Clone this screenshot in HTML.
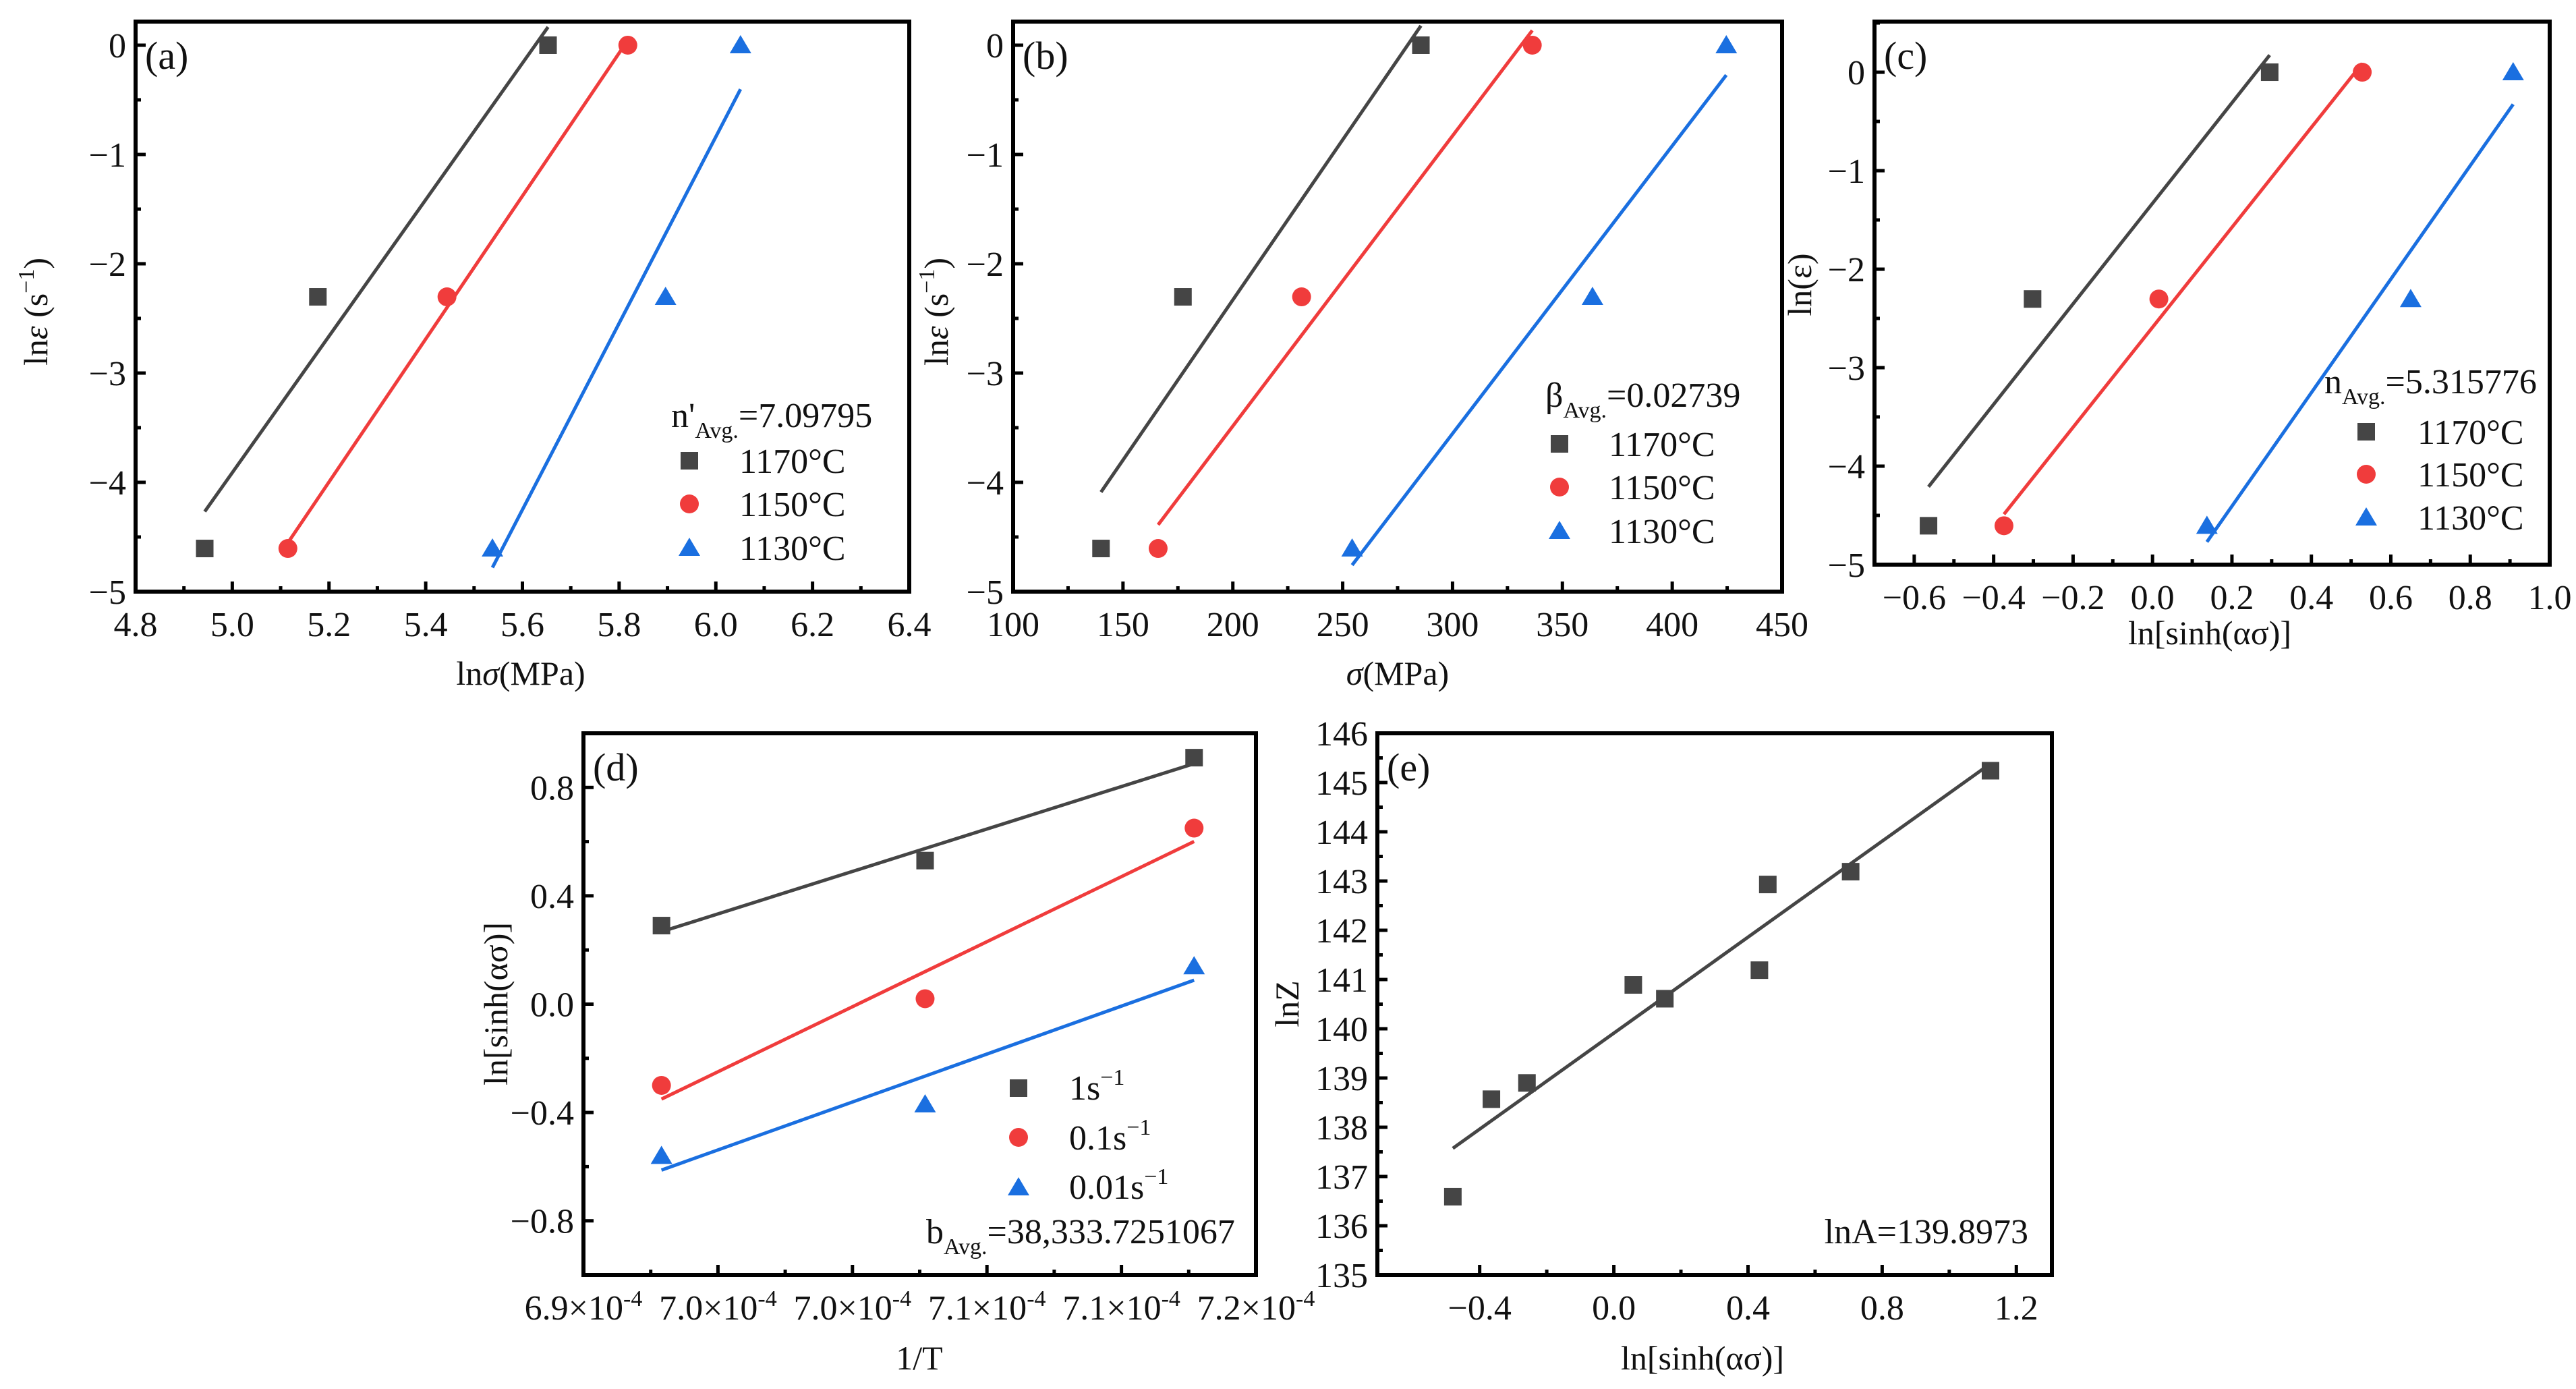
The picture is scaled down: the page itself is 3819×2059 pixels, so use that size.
<!DOCTYPE html>
<html><head><meta charset="utf-8">
<style>
html,body{margin:0;padding:0;background:#fff;}
svg{display:block;}
text{font-family:"Liberation Serif","DejaVu Serif",serif;}
</style></head>
<body>
<svg id="fig" width="3819" height="2059" viewBox="0 0 3819 2059" xmlns="http://www.w3.org/2000/svg" font-family="Liberation Serif, DejaVu Serif, serif"></svg>
<script>
// ---------- data ----------
const rateLabels = ["1170°C","1150°C","1130°C"];
const lnRate = [-4.6052,-2.3026,0];
// (a) ln sigma
const aBlackX = [4.943,5.177,5.653];
const aRedX = [5.115,5.444,5.818];
const aBlueX = [5.538,5.896,6.051];
// (b) sigma
const bBlackX = [140.0,177.3,285.6];
const bRedX = [166.0,231.3,336.3];
const bBlueX = [254.3,363.7,424.6];
// (c) ln sinh
const cBlackX = [-0.564,-0.302,0.295];
const cRedX = [-0.374,0.016,0.528];
const cBlueX = [0.137,0.650,0.908];
// (d)
const invT = [6.929e-4,7.027e-4,7.127e-4];
const dBlackY = [0.29,0.53,0.91];
const dRedY = [-0.30,0.02,0.65];
const dBlueY = [-0.56,-0.37,0.14];
const dLegend = ["1s","0.1s","0.01s"];
// (e)
const eX = [-0.480,-0.365,-0.259,0.058,0.152,0.434,0.459,0.706,1.123];
const eY = [136.59,138.57,138.90,140.89,140.61,141.19,142.93,143.19,145.24];
const aTicksX = ["4.8","5.0","5.2","5.4","5.6","5.8","6.0","6.2","6.4"];
const bTicksX = ["100","150","200","250","300","350","400","450"];
const cTicksX = ["−0.6","−0.4","−0.2","0.0","0.2","0.4","0.6","0.8","1.0"];
const dTicksX = ["6.9","7.0","7.0","7.1","7.1","7.2"];
const eTicksX = ["−0.4","0.0","0.4","0.8","1.2"];

const NS="http://www.w3.org/2000/svg";
const svg=document.getElementById('fig');
const COL=["#454545","#f03c3c","#1a6fe0"];
const FONT='"Liberation Serif", "DejaVu Serif", serif';
function el(tag,attrs,parent){const e=document.createElementNS(NS,tag);for(const k in attrs)e.setAttribute(k,attrs[k]);(parent||svg).appendChild(e);return e;}
function fit(xs,ys){const n=xs.length;let mx=0,my=0;for(let i=0;i<n;i++){mx+=xs[i];my+=ys[i];}mx/=n;my/=n;let sxy=0,sxx=0;for(let i=0;i<n;i++){sxy+=(xs[i]-mx)*(ys[i]-my);sxx+=(xs[i]-mx)**2;}const b=sxy/sxx;return x=>my+b*(x-mx);}
function marker(g,type,cx,cy,color,name){let m;
 if(type==0){m=el('rect',{x:cx-13,y:cy-13,width:26,height:26,fill:color},g);}
 else if(type==1){m=el('circle',{cx:cx,cy:cy,r:14,fill:color},g);}
 else {m=el('polygon',{points:`${cx},${cy-15} ${cx+16},${cy+12} ${cx-16},${cy+12}`,fill:color},g);}
 
 
 return m;}
function text(g,x,y,str,opts){const t=el('text',Object.assign({x:x,y:y,'font-size':52,fill:'#111','font-family':FONT},opts||{}),g);t.textContent=str;return t;}

function panel(p){
 const g=el('g',{});
 
 
 const sx=v=>p.L+(v-p.x0)/(p.x1-p.x0)*(p.R-p.L);
 const sy=v=>p.B-(v-p.y0)/(p.y1-p.y0)*(p.B-p.T);
 p.series.forEach((s,i)=>{
  const f=fit(s.x,s.y);const xa=Math.min(...s.x),xb=Math.max(...s.x);
  const ln=el('line',{x1:sx(xa),y1:sy(f(xa)),x2:sx(xb),y2:sy(f(xb)),stroke:s.c,'stroke-width':5},g);
  
  
  s.x.forEach((xv,j)=>marker(g,s.m,sx(xv),sy(s.y[j]),s.c,'point-'+(i+1)+'-'+(j+1)));
 });
 const fr=el('rect',{x:p.L,y:p.T,width:p.R-p.L,height:p.B-p.T,fill:'none',stroke:'#000','stroke-width':6},g);
 
 
 for(let v=p.xt0,k=0;v<=p.x1+1e-12;v+=p.xstep/2,k++){
  const X=sx(v);const major=k%2==0;
  el('line',{x1:X,y1:p.B,x2:X,y2:p.B-(major?15:8),stroke:'#000','stroke-width':5},g);
  if(major&&p.xlab[k/2]!==undefined){
   const t=text(g,X,p.B+66,'',{'text-anchor':'middle'});
   
   
   if(p.sci){t.textContent=p.xlab[k/2]+'×10';const s=el('tspan',{dy:-20,'font-size':34},t);s.textContent='-4';}
   else t.textContent=p.xlab[k/2];
  }
 }
 for(let v=p.yt0,k=0;v<=p.y1+1e-9;v+=p.ystep/2,k++){
  const Y=sy(v);const major=k%2==0;
  if(v<p.y0-1e-9) continue;
  el('line',{x1:p.L,y1:Y,x2:p.L+(major?15:8),y2:Y,stroke:'#000','stroke-width':5},g);
  if(major){
   const t=text(g,p.L-14,Y+18,p.yfmt(v),{'text-anchor':'end'});
   
   
  }
 }
 const lab=text(g,p.L+14,p.T+70,p.tag,{'font-size':58});
 
 
 return g;
}
const fmtInt=v=>{const r=Math.round(v);return r<0?'−'+(-r):String(r);};
const fmt1=v=>{let r=(Math.round(v*10)/10).toFixed(1);if(r==='-0.0')r='0.0';return r.startsWith('-')?'−'+r.slice(1):r;};

function tempLegend(g,mx,tx,ys){
 rateLabels.forEach((l,i)=>{marker(g,i,mx,ys[i],COL[i],'legend-marker-'+(i+1));
  const t=text(g,tx,ys[i]+18,l);});
}
function ylabelLnE(g,x,y){
 const t=text(g,x,y,'',{'text-anchor':'middle',transform:`rotate(-90 ${x} ${y})`,'font-size':50});
 
 const a=el('tspan',{},t);a.textContent='ln';
 const b=el('tspan',{'font-style':'italic'},t);b.textContent='ε';
 const c=el('tspan',{},t);c.textContent=' (s';
 const d=el('tspan',{dy:-20,'font-size':34},t);d.textContent='−1';
 const e=el('tspan',{dy:20},t);e.textContent=')';
}
function xtitle(g,x,y,parts){const t=text(g,x,y,'',{'text-anchor':'middle','font-size':50});
 
 parts.forEach(p=>{const s=el('tspan',p[1]?{'font-style':'italic'}:{},t);s.textContent=p[0];});}
function subText(g,x,y,main,sub,rest,anchor){const t=text(g,x,y,'',{'text-anchor':anchor||'start'});
 
 const a=el('tspan',{},t);a.textContent=main;const b=el('tspan',{dy:16,'font-size':34},t);b.textContent=sub;const c=el('tspan',{dy:-16},t);c.textContent=rest;}
function rotLabel(g,x,y,str){const t=text(g,x,y,str,{'text-anchor':'middle',transform:`rotate(-90 ${x} ${y})`,'font-size':50});}

// (a)
let g=panel({name:'panel-a',tag:'(a)',L:201,R:1348,T:32,B:877,x0:4.8,x1:6.4,xt0:4.8,xstep:0.2,xlab:aTicksX,y0:-5,y1:0.216,yt0:-5,ystep:1,yfmt:fmtInt,
 series:[{x:aBlackX,y:lnRate,c:COL[0],m:0},{x:aRedX,y:lnRate,c:COL[1],m:1},{x:aBlueX,y:lnRate,c:COL[2],m:2}]});
ylabelLnE(g,70,462);xtitle(g,772,1015,[['ln',0],['σ',1],['(MPa)',0]]);
subText(g,995,633,"n'",'Avg.','=7.09795');tempLegend(g,1022,1096,[683,747,812]);
// (b)
g=panel({name:'panel-b',tag:'(b)',L:1502,R:2642,T:32,B:877,x0:100,x1:450,xt0:100,xstep:50,xlab:bTicksX,y0:-5,y1:0.216,yt0:-5,ystep:1,yfmt:fmtInt,
 series:[{x:bBlackX,y:lnRate,c:COL[0],m:0},{x:bRedX,y:lnRate,c:COL[1],m:1},{x:bBlueX,y:lnRate,c:COL[2],m:2}]});
ylabelLnE(g,1405,462);xtitle(g,2072,1015,[['σ',1],['(MPa)',0]]);
subText(g,2291,603,'β','Avg.','=0.02739');tempLegend(g,2312,2385,[658,722,787]);
// (c)
g=panel({name:'panel-c',tag:'(c)',L:2779,R:3780,T:32,B:837,x0:-0.7,x1:1.0,xt0:-0.6,xstep:0.2,xlab:cTicksX,y0:-5,y1:0.514,yt0:-5,ystep:1,yfmt:fmtInt,
 series:[{x:cBlackX,y:lnRate,c:COL[0],m:0},{x:cRedX,y:lnRate,c:COL[1],m:1},{x:cBlueX,y:lnRate,c:COL[2],m:2}]});
rotLabel(g,2685,422,'ln(ε)');
xtitle(g,3276,955,[['ln[sinh(ασ)]',0]]);
subText(g,3446,583,'n','Avg.','=5.315776');tempLegend(g,3508,3584,[640,703,767]);
// (d)
g=panel({name:'panel-d',tag:'(d)',L:865,R:1862,T:1087,B:1890,x0:6.9e-4,x1:7.15e-4,xt0:6.9e-4,xstep:0.05e-4,xlab:dTicksX,sci:true,y0:-1.0,y1:1.0,yt0:-1.2,ystep:0.4,yfmt:fmt1,
 series:[{x:invT,y:dBlackY,c:COL[0],m:0},{x:invT,y:dRedY,c:COL[1],m:1},{x:invT,y:dBlueY,c:COL[2],m:2}]});
rotLabel(g,752,1488,'ln[sinh(ασ)]');
xtitle(g,1363,2030,[['1/T',0]]);
dLegend.forEach((l,i)=>{marker(g,i,1510,[1613,1686,1760][i],COL[i],'legend-marker-'+(i+1));
 const t=text(g,1585,[1630,1704,1777][i],l);
 const s=el('tspan',{dy:-22,'font-size':34},t);s.textContent='−1';});
subText(g,1373,1843,'b','Avg.','=38,333.7251067');
// (e)
g=panel({name:'panel-e',tag:'(e)',L:2042,R:3042,T:1087,B:1890,x0:-0.705,x1:1.306,xt0:-0.4,xstep:0.4,xlab:eTicksX,y0:135,y1:146,yt0:135,ystep:1,yfmt:fmtInt,
 series:[{x:eX,y:eY,c:COL[0],m:0}]});
rotLabel(g,1925,1488,'lnZ');
xtitle(g,2524,2030,[['ln[sinh(ασ)]',0]]);
(function(){const t=text(g,3007,1843,'lnA=139.8973',{'text-anchor':'end'});})();
</script>
</body></html>
